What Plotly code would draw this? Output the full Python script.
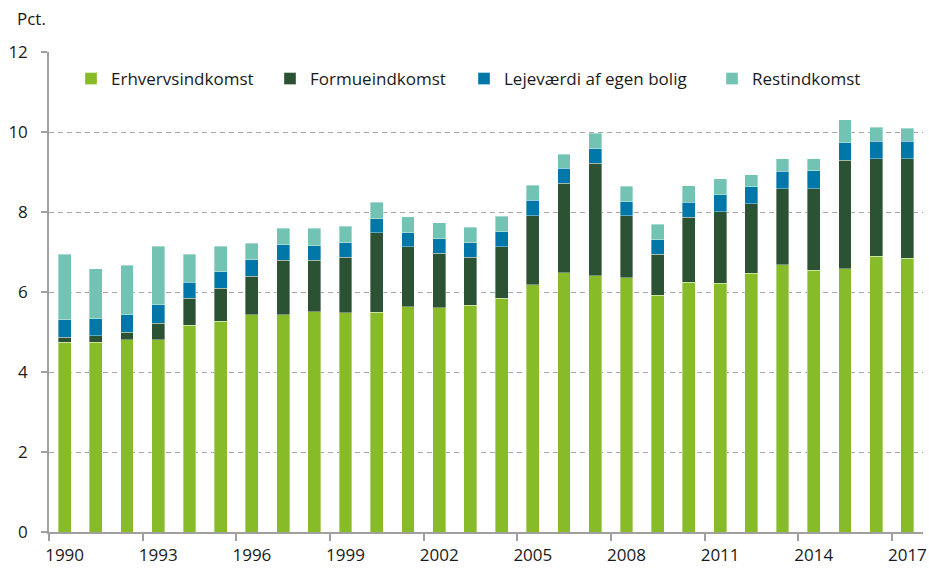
import plotly.graph_objects as go

# år og indkomstkomponenter (pct.)
years = [str(y) for y in range(1990, 2018)]

erhverv = [4.75, 4.74, 4.81, 4.81, 5.17, 5.27, 5.43, 5.43, 5.51, 5.48,
           5.50, 5.63, 5.61, 5.67, 5.84, 6.18, 6.48, 6.41, 6.36, 5.92,
           6.25, 6.22, 6.47, 6.68, 6.55, 6.58, 6.90, 6.85]
formue = [0.12, 0.17, 0.19, 0.41, 0.67, 0.83, 0.96, 1.36, 1.28, 1.39,
          1.98, 1.50, 1.36, 1.20, 1.29, 1.73, 2.24, 2.81, 1.55, 1.02,
          1.62, 1.79, 1.74, 1.90, 2.03, 2.72, 2.43, 2.48]
lejevaerdi = [0.44, 0.42, 0.43, 0.46, 0.40, 0.41, 0.42, 0.39, 0.37, 0.36,
              0.35, 0.35, 0.36, 0.36, 0.38, 0.38, 0.37, 0.36, 0.35, 0.37,
              0.37, 0.42, 0.42, 0.44, 0.45, 0.43, 0.44, 0.44]
rest = [1.63, 1.25, 1.24, 1.46, 0.70, 0.63, 0.41, 0.41, 0.44, 0.42,
        0.41, 0.40, 0.40, 0.39, 0.38, 0.38, 0.36, 0.39, 0.39, 0.38,
        0.42, 0.40, 0.30, 0.31, 0.30, 0.58, 0.35, 0.33]

series = [
    ("Erhvervsindkomst", erhverv, "#87bc28"),
    ("Formueindkomst", formue, "#2c5234"),
    ("Lejeværdi af egen bolig", lejevaerdi, "#0077a9"),
    ("Restindkomst", rest, "#72c3b4"),
]

FONT = "Open Sans"

W, H = 929, 568
ML, MR, MT, MB = 49, 6, 52, 36
PW, PH = W - ML - MR, H - MT - MB

# legend entries laid out one by one (x of text start, in px)
legend_text_x = [113, 312, 506, 754]

fig = go.Figure()
legends = {}
for i, (name, vals, col) in enumerate(series):
    key = "legend" if i == 0 else f"legend{i + 1}"
    fig.add_trace(go.Bar(
        x=years, y=vals, name=name, legend=key,
        marker=dict(color=col, line=dict(color="rgba(255,255,255,0.6)", width=0.6)),
        width=0.41,
    ))
    lx = legend_text_x[i] - 42
    legends[key] = dict(
        orientation="h",
        x=(lx - ML) / PW, y=1 - (79 - MT) / PH,
        xanchor="left", yanchor="middle",
        font=dict(size=17, family=FONT, color="#1a1a1a"),
        bgcolor="rgba(0,0,0,0)",
    )

fig.update_layout(
    barmode="stack",
    width=W, height=H,
    margin=dict(l=ML, r=MR, t=MT, b=MB, autoexpand=False),
    paper_bgcolor="white",
    plot_bgcolor="white",
    font=dict(family=FONT, size=17, color="#1a1a1a"),
    showlegend=True,
    xaxis=dict(
        type="category",
        tickmode="linear", tick0=0, dtick=3,
        tickangle=0, automargin=False,
        tickson="boundaries",
        ticks="outside", ticklen=7, tickcolor="#a0a0a0", tickwidth=1.5,
        showline=True, linecolor="#a0a0a0", linewidth=1.5,
        showgrid=False,
        range=[-0.5, 27.5],
        ticklabelstandoff=7,
    ),
    yaxis=dict(
        range=[0, 12], dtick=2, automargin=False,
        ticks="outside", ticklen=6, tickcolor="#a0a0a0", tickwidth=1.5,
        showline=True, linecolor="#a0a0a0", linewidth=1.5,
        showgrid=True, gridcolor="#a6a6a6", gridwidth=1.3, griddash="5px,4px",
        zeroline=False,
        ticklabelstandoff=10,
    ),
    annotations=[dict(
        text="Pct.", xref="paper", yref="paper",
        x=(15 - ML) / PW, y=1 + (MT - 18) / PH, xanchor="left", yanchor="middle",
        showarrow=False, font=dict(size=17),
    )],
    **legends,
)

# drop the default page margin so the figure fills the window exactly
fig.write_html(
    "out.html",
    config={"displayModeBar": False},
    post_script="document.body.style.margin='0';document.body.style.overflow='hidden';",
)
